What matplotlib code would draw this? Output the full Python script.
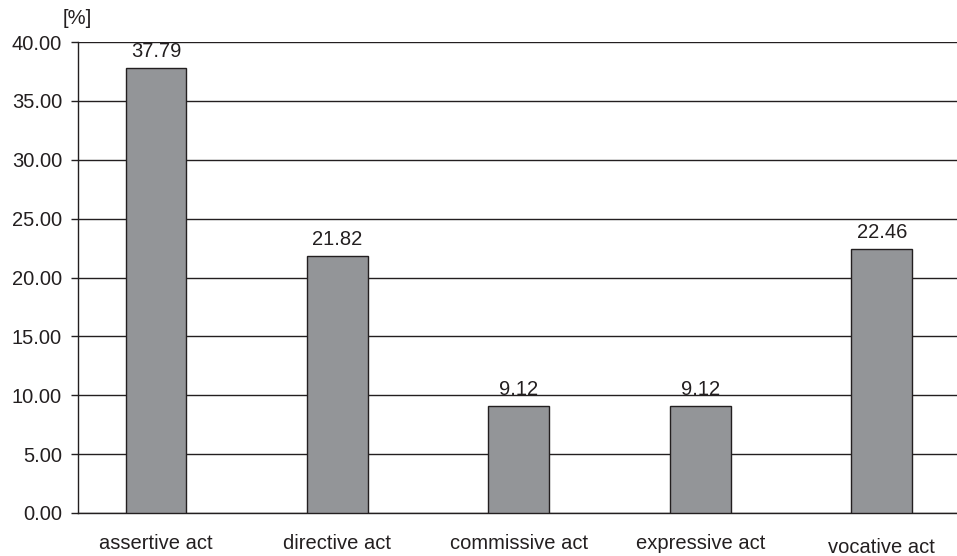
import matplotlib
matplotlib.use("Agg")
import matplotlib.pyplot as plt

categories = ["assertive act", "directive act", "commissive act", "expressive act", "vocative act"]
values = [37.79, 21.82, 9.12, 9.12, 22.46]
yticks = [0, 5, 10, 15, 20, 25, 30, 35, 40]

plt.rcParams["font.family"] = ["Liberation Sans", "DejaVu Sans"]
FS = 14.5

W, H = 957, 556
fig = plt.figure(figsize=(W / 100, H / 100), dpi=100)
ax = fig.add_axes([78 / W, 1 - 513 / H, 1 - 78 / W, (513 - 42) / H])

line_col = "#231f20"
x = list(range(len(categories)))
ax.bar(x, values, width=0.336, color="#939598", edgecolor=line_col, linewidth=1.0, zorder=3)

for xi, v in zip(x, values):
    ax.annotate(f"{v:.2f}", (xi, v), xytext=(0, 5), textcoords="offset points",
                ha="center", va="bottom", fontsize=FS, color=line_col)

ax.set_ylim(0, 40)
ax.set_xlim(-0.43, 4.415)
ax.set_yticks(yticks)
ax.set_yticklabels([f"{t:.2f}" for t in yticks], fontsize=FS, color=line_col)
ax.tick_params(axis="y", length=5, width=1, color=line_col, pad=6.5)
ax.set_xticks([])
ax.yaxis.grid(True, color=line_col, linewidth=1.0, zorder=0)
ax.set_axisbelow(True)

for side in ["top", "right"]:
    ax.spines[side].set_visible(False)
for side in ["left", "bottom"]:
    ax.spines[side].set_color(line_col)
    ax.spines[side].set_linewidth(1.0)

# category labels under the axis; the last one sits slightly lower
for xi, name in zip(x, categories):
    dy = -3 if name == "vocative act" else 0
    ax.annotate(name, (xi, 0), xytext=(0, -22 + dy), textcoords="offset points",
                ha="center", va="center", fontsize=FS, color=line_col,
                annotation_clip=False)

fig.text(77 / W, 1 - 18 / H, "[%]", ha="center", va="center", fontsize=FS, color=line_col)

fig.savefig("out.png", dpi=100)
